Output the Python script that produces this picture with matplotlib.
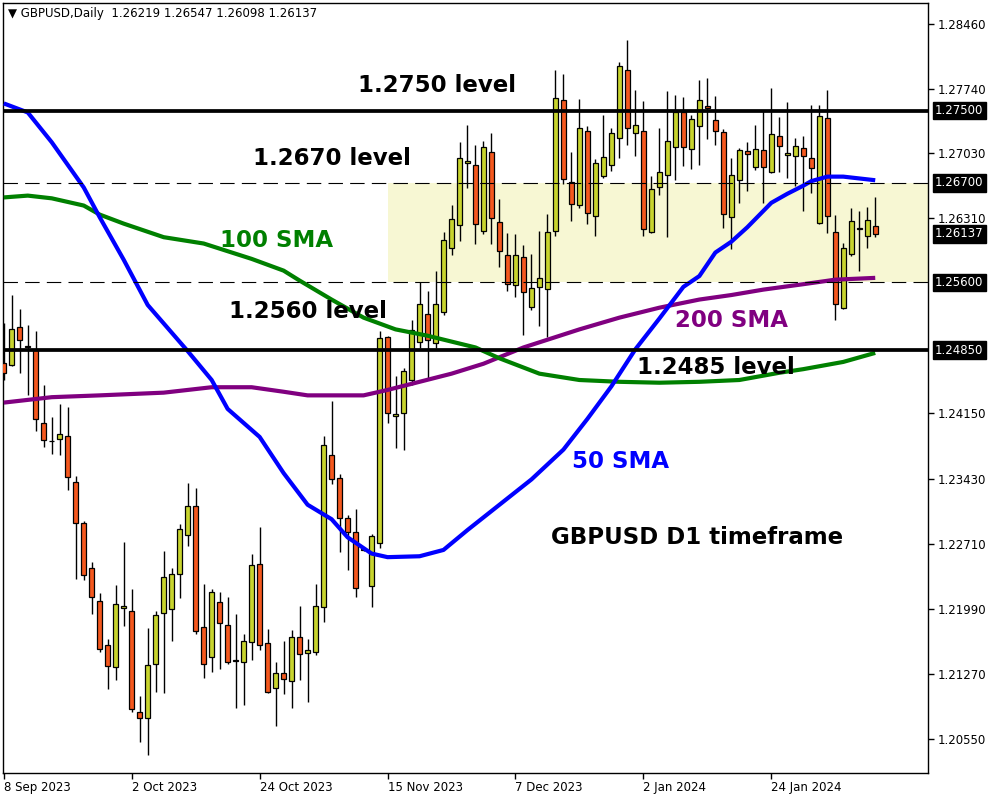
import matplotlib
matplotlib.use("Agg")
import matplotlib.pyplot as plt
import matplotlib.transforms as mtransforms
from matplotlib.patches import Rectangle

# ---------------- data ----------------
opens = [1.2471, 1.2469, 1.2511, 1.2490, 1.2485, 1.2404, 1.2385, 1.2387, 1.2390, 1.2339,
         1.2294, 1.2244, 1.2208, 1.2159, 1.2135, 1.2200, 1.2196, 1.2085, 1.2078, 1.2138,
         1.2194, 1.2199, 1.2237, 1.2281, 1.2313, 1.2179, 1.2146, 1.2206, 1.2181, 1.2142,
         1.2140, 1.2162, 1.2248, 1.2161, 1.2111, 1.2128, 1.2119, 1.2168, 1.2150, 1.2151,
         1.2201, 1.2369, 1.2344, 1.2299, 1.2284, 1.2265, 1.2224, 1.2272, 1.2500, 1.2412,
         1.2415, 1.2452, 1.2494, 1.2525, 1.2493, 1.2527, 1.2598, 1.2623, 1.2692, 1.2690,
         1.2617, 1.2704, 1.2627, 1.2590, 1.2557, 1.2588, 1.2533, 1.2555, 1.2553, 1.2617,
         1.2762, 1.2671, 1.2646, 1.2728, 1.2633, 1.2678, 1.2690, 1.2720, 1.2795, 1.2725,
         1.2728, 1.2616, 1.2666, 1.2679, 1.2710, 1.2749, 1.2708, 1.2733, 1.2755, 1.2740,
         1.2726, 1.2632, 1.2673, 1.2705, 1.2688, 1.2707, 1.2682, 1.2722, 1.2701, 1.2700,
         1.2709, 1.2698, 1.2626, 1.2742, 1.2616, 1.2532, 1.2591, 1.2620, 1.2611, 1.26219]
highs = [1.2515, 1.2546, 1.2531, 1.2513, 1.2506, 1.2446, 1.2411, 1.2425, 1.2422, 1.2346,
         1.2296, 1.2251, 1.2216, 1.2165, 1.2225, 1.2273, 1.2221, 1.2102, 1.2178, 1.2196,
         1.2263, 1.2244, 1.2293, 1.2338, 1.2333, 1.2226, 1.2221, 1.2218, 1.2212, 1.2193,
         1.2171, 1.2259, 1.2289, 1.2177, 1.2140, 1.2163, 1.2175, 1.2202, 1.2165, 1.2226,
         1.2390, 1.2429, 1.2348, 1.2303, 1.2309, 1.2267, 1.2282, 1.2506, 1.2501, 1.2456,
         1.2465, 1.2518, 1.2560, 1.2550, 1.2573, 1.2616, 1.2646, 1.2715, 1.2734, 1.2712,
         1.2716, 1.2725, 1.2652, 1.2615, 1.2614, 1.2601, 1.2591, 1.2617, 1.2636, 1.2795,
         1.2791, 1.2704, 1.2763, 1.2733, 1.2696, 1.2745, 1.2731, 1.2804, 1.2828, 1.2773,
         1.2761, 1.2678, 1.2731, 1.2772, 1.2767, 1.2765, 1.2745, 1.2784, 1.2786, 1.2766,
         1.2730, 1.2698, 1.2709, 1.2715, 1.2734, 1.2750, 1.2775, 1.2743, 1.2760, 1.2720,
         1.2722, 1.2756, 1.2756, 1.2773, 1.2635, 1.2604, 1.2642, 1.2639, 1.2643, 1.26547]
lows = [1.2452, 1.2467, 1.2460, 1.2435, 1.2396, 1.2378, 1.2370, 1.2369, 1.2330, 1.2232,
        1.2231, 1.2193, 1.2151, 1.2110, 1.2120, 1.2180, 1.2085, 1.2052, 1.2037, 1.2107,
        1.2106, 1.2163, 1.2211, 1.2268, 1.2171, 1.2122, 1.2129, 1.2132, 1.2138, 1.2089,
        1.2092, 1.2142, 1.2153, 1.2106, 1.2069, 1.2105, 1.2089, 1.2120, 1.2096, 1.2148,
        1.2184, 1.2337, 1.2262, 1.2242, 1.2212, 1.2263, 1.2201, 1.2266, 1.2404, 1.2377,
        1.2375, 1.2447, 1.2487, 1.2452, 1.2487, 1.2524, 1.2590, 1.2606, 1.2664, 1.2602,
        1.2614, 1.2603, 1.2577, 1.2550, 1.2544, 1.2502, 1.2529, 1.2512, 1.2500, 1.2611,
        1.2669, 1.2628, 1.2642, 1.2625, 1.2611, 1.2675, 1.2683, 1.2698, 1.2712, 1.2700,
        1.2611, 1.2615, 1.2657, 1.2610, 1.2673, 1.2689, 1.2685, 1.2690, 1.2719, 1.2712,
        1.2620, 1.2597, 1.2648, 1.2661, 1.2684, 1.2648, 1.2681, 1.2682, 1.2675, 1.2667,
        1.2639, 1.2659, 1.2625, 1.2615, 1.2518, 1.2531, 1.2589, 1.2573, 1.2598, 1.26098]
closes = [1.2460, 1.2508, 1.2496, 1.2489, 1.2409, 1.2386, 1.2384, 1.2392, 1.2345, 1.2294,
          1.2236, 1.2212, 1.2154, 1.2136, 1.2204, 1.2202, 1.2088, 1.2078, 1.2137, 1.2192,
          1.2234, 1.2237, 1.2287, 1.2313, 1.2174, 1.2138, 1.2218, 1.2183, 1.2140, 1.2141,
          1.2163, 1.2247, 1.2159, 1.2107, 1.2128, 1.2121, 1.2168, 1.2149, 1.2153, 1.2202,
          1.2380, 1.2343, 1.2299, 1.2284, 1.2222, 1.2264, 1.2279, 1.2499, 1.2415, 1.2414,
          1.2462, 1.2507, 1.2536, 1.2496, 1.2536, 1.2607, 1.2630, 1.2698, 1.2694, 1.2625,
          1.2710, 1.2631, 1.2595, 1.2558, 1.2590, 1.2549, 1.2554, 1.2565, 1.2616, 1.2764,
          1.2674, 1.2647, 1.2731, 1.2637, 1.2692, 1.2699, 1.2725, 1.2799, 1.2731, 1.2734,
          1.2619, 1.2663, 1.2682, 1.2716, 1.2749, 1.2710, 1.2741, 1.2762, 1.2753, 1.2728,
          1.2636, 1.2679, 1.2707, 1.2702, 1.2708, 1.2688, 1.2724, 1.2711, 1.2703, 1.2711,
          1.2700, 1.2687, 1.2744, 1.2633, 1.2536, 1.2598, 1.2628, 1.2619, 1.2629, 1.26137]

date_tick_bars = [0, 16, 32, 48, 64, 80, 96]
date_tick_labels = ["8 Sep 2023", "2 Oct 2023", "24 Oct 2023", "15 Nov 2023",
                    "7 Dec 2023", "2 Jan 2024", "24 Jan 2024"]

sma50_bars = [0, 3, 6, 10, 12, 15, 18, 23, 26, 28, 32, 35, 38, 41, 43, 46, 48, 52, 55, 58,
              62, 66, 70, 73, 76, 79, 82, 85, 87, 89, 91, 93, 96, 98, 100, 101, 103, 105, 107, 109]
sma50_vals = [1.2758, 1.2748, 1.2715, 1.2665, 1.2632, 1.2585, 1.2535, 1.2484, 1.2452, 1.2420,
              1.2389, 1.2349, 1.2314, 1.2298, 1.2278, 1.2260, 1.2256, 1.2257, 1.2264, 1.2286,
              1.2314, 1.2342, 1.2375, 1.2409, 1.2445, 1.2486, 1.2520, 1.2555, 1.2567, 1.2593,
              1.2605, 1.2621, 1.2648, 1.2658, 1.2667, 1.2672, 1.2677, 1.2677, 1.2675, 1.2673]

sma100_bars = [0, 3, 6, 10, 12, 15, 20, 25, 31, 35, 37, 41, 45, 49, 53, 59, 62, 67, 72, 77,
               82, 87, 92, 97, 100, 105, 109]
sma100_vals = [1.2654, 1.2656, 1.2653, 1.2645, 1.2635, 1.2625, 1.2610, 1.2603, 1.2586, 1.2573,
               1.2562, 1.2541, 1.2521, 1.2508, 1.2501, 1.2488, 1.2476, 1.2459, 1.2452, 1.2450,
               1.2449, 1.2450, 1.2452, 1.2460, 1.2464, 1.2472, 1.2482]

sma200_bars = [0, 6, 12, 20, 26, 31, 35, 38, 45, 48, 52, 56, 60, 65, 72, 77, 82, 87, 91, 95,
               100, 104, 109]
sma200_vals = [1.2427, 1.2433, 1.2435, 1.2438, 1.2444, 1.2444, 1.2439, 1.2435, 1.2435, 1.2441,
               1.2450, 1.2459, 1.2470, 1.2488, 1.2508, 1.2521, 1.2532, 1.2541, 1.2546, 1.2552,
               1.2558, 1.2563, 1.2565]

solid_levels = [1.2750, 1.2485]
dashed_levels = [1.2670, 1.2560]
zone_low, zone_high = 1.2560, 1.2670
zone_start_bar = 48

price_ticks = [1.28460, 1.27740, 1.27030, 1.26310, 1.24150, 1.23430, 1.22710,
               1.21990, 1.21270, 1.20550]
marked_prices = [1.27500, 1.26700, 1.26137, 1.25600, 1.24850]

# ---------------- figure ----------------
BULL = "#C8D42E"
BEAR = "#F4581E"

fig = plt.figure(figsize=(10, 8), dpi=100)
fig.patch.set_facecolor("white")
ax = fig.add_axes([3 / 1000, 1 - 773 / 800, 925 / 1000, 770 / 800])
ax.set_xlim(-0.1, 115.6)
ax.set_ylim(1.20172, 1.28691)

# zone
ax.add_patch(Rectangle((zone_start_bar, zone_low), 200, zone_high - zone_low,
                       facecolor="#F7F7D3", edgecolor="none", zorder=0))

# candles
n = len(opens)
xs = list(range(n))
bw = 0.62
ax.vlines(xs, lows, highs, color="black", linewidth=1.0, zorder=2)
for i in xs:
    o, c = opens[i], closes[i]
    if abs(c - o) < 0.00006:
        ax.hlines(o, i - bw / 2, i + bw / 2, color="black", linewidth=1.2, zorder=3)
        continue
    col = BULL if c > o else BEAR
    ax.bar(i, abs(c - o), bottom=min(o, c), width=bw, color=col,
           edgecolor="black", linewidth=0.9, zorder=3)

# moving averages
ax.plot(sma200_bars, sma200_vals, color="#800080", linewidth=3.0, zorder=4,
        solid_capstyle="butt", solid_joinstyle="round")
ax.plot(sma100_bars, sma100_vals, color="#008000", linewidth=3.0, zorder=4,
        solid_capstyle="butt", solid_joinstyle="round")
ax.plot(sma50_bars, sma50_vals, color="#0000FF", linewidth=3.0, zorder=4,
        solid_capstyle="butt", solid_joinstyle="round")

# levels
for lv in solid_levels:
    ax.axhline(lv, color="black", linewidth=2.7, zorder=5)
for lv in dashed_levels:
    ax.axhline(lv, color="black", linewidth=0.8, linestyle=(0, (13, 6.5)), zorder=5)

# annotations
bold = dict(fontsize=16.5, fontweight="bold", family="DejaVu Sans", va="center",
            ha="left", zorder=6)
ax.text(44.3, 1.27783, "1.2750 level", color="black", **bold)
ax.text(31.2, 1.26975, "1.2670 level", color="black", **bold)
ax.text(27.1, 1.26068, "100 SMA", color="#008000", **bold)
ax.text(28.2, 1.25283, "1.2560 level", color="black", **bold)
ax.text(83.9, 1.25173, "200 SMA", color="#800080", **bold)
ax.text(79.2, 1.24653, "1.2485 level", color="black", **bold)
ax.text(71.1, 1.23613, "50 SMA", color="#0000FF", **bold)
ax.text(68.4, 1.22772, "GBPUSD D1 timeframe", color="black", **bold)

# header
ax.text(5 / 925, 1 - 11 / 770,
        "\u25BC GBPUSD,Daily  1.26219 1.26547 1.26098 1.26137",
        transform=ax.transAxes, fontsize=8.5, color="black", va="center", ha="left",
        family="DejaVu Sans", zorder=7)

# axes styling
for sp in ax.spines.values():
    sp.set_color("black")
    sp.set_linewidth(1.0)
ax.yaxis.tick_right()
ax.set_yticks(price_ticks)
ax.set_yticklabels([f"{p:.5f}" for p in price_ticks])
ax.set_xticks(date_tick_bars)
ax.set_xticklabels(date_tick_labels)
for lbl in ax.get_xticklabels():
    lbl.set_horizontalalignment("left")
ax.tick_params(axis="y", direction="out", length=4, width=1, labelsize=8.5, pad=3,
               colors="black", left=False)
ax.tick_params(axis="x", direction="out", length=4, width=1, labelsize=8.5, pad=2,
               colors="black")

trans = mtransforms.blended_transform_factory(ax.transAxes, ax.transData)
for p in marked_prices:
    ax.text(1 + 7 / 925, p, f"{p:.5f}", transform=trans, color="white",
            fontsize=8.5, va="center", ha="left", family="DejaVu Sans",
            bbox=dict(facecolor="black", edgecolor="black", pad=1.6), zorder=8,
            clip_on=False)

fig.savefig("out.png", dpi=100, facecolor="white")
